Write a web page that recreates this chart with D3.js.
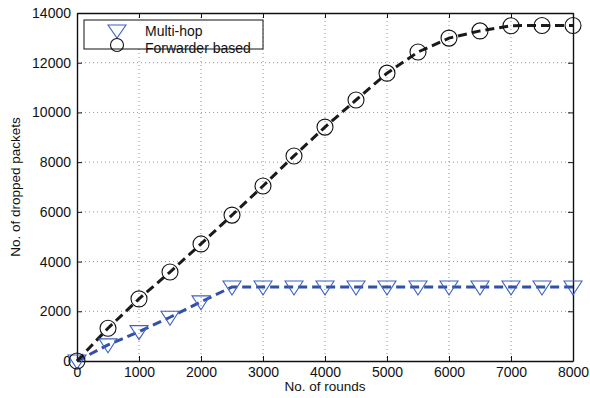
<!DOCTYPE html>
<html><head><meta charset="utf-8">
<script src="https://cdn.jsdelivr.net/npm/d3@7"></script>
<style>body{margin:0;background:#fff}svg{display:block}text{font-family:"Liberation Sans",Arial,sans-serif}</style>
</head><body><svg id="c" width="590" height="398"></svg>
<script>
const rounds = [0,500,1000,1500,2000,2500,3000,3500,4000,4500,5000,5500,6000,6500,7000,7500,8000];
const multiHop = [0,650,1180,1760,2380,2980,2980,2980,2980,2980,2980,2980,2980,2980,2980,2980,2980];
const forwarder = [0,1320,2500,3580,4710,5870,7040,8250,9410,10500,11580,12430,12990,13280,13490,13500,13500];
const xTicks = [0,1000,2000,3000,4000,5000,6000,7000,8000];
const yTicks = [0,2000,4000,6000,8000,10000,12000,14000];
const seriesNames = ["Multi-hop","Forwarder based"];

const svg = d3.select("#c");
const L=77,R=573,T=13,B=361;
const x = d3.scaleLinear().domain([0,8000]).range([L,R]);
const y = d3.scaleLinear().domain([0,14000]).range([B,T]);
const fmt = d3.format("d");

// grid
const g = svg.append("g");
xTicks.forEach(v=>{ if(v>0&&v<8000) g.append("line").attr("x1",x(v)).attr("x2",x(v)).attr("y1",T).attr("y2",B).attr("stroke","#777").attr("stroke-width",0.8).attr("stroke-dasharray","1,3");});
yTicks.forEach(v=>{ if(v>0&&v<14000) g.append("line").attr("x1",L).attr("x2",R).attr("y1",y(v)).attr("y2",y(v)).attr("stroke","#777").attr("stroke-width",0.8).attr("stroke-dasharray","1,3");});

// axes
const xa = svg.append("g").attr("transform",`translate(0,${B})`).call(d3.axisBottom(x).tickValues(xTicks).tickSizeInner(-5).tickSizeOuter(0).tickPadding(6).tickFormat(fmt));
const xt = svg.append("g").attr("transform",`translate(0,${T})`).call(d3.axisTop(x).tickValues(xTicks).tickSizeInner(-5).tickSizeOuter(0).tickFormat(""));
const ya = svg.append("g").attr("transform",`translate(${L},0)`).call(d3.axisLeft(y).tickValues(yTicks).tickSizeInner(-5).tickSizeOuter(0).tickPadding(6).tickFormat(fmt));
const yr = svg.append("g").attr("transform",`translate(${R},0)`).call(d3.axisRight(y).tickValues(yTicks).tickSizeInner(-5).tickSizeOuter(0).tickFormat(""));
[xa,xt,ya,yr].forEach(a=>{a.selectAll("path").attr("stroke","#111").attr("stroke-width",1.4);a.selectAll("line").attr("stroke","#111");a.selectAll("text").attr("fill","#111").style("font-size","14px");});

// lines
const line = d3.line().x((d,i)=>x(rounds[i])).y(d=>y(d));
svg.append("path").datum(multiHop).attr("d",line).attr("fill","none").attr("stroke","#3150a8").attr("stroke-width",3).attr("stroke-dasharray","9,5");
svg.append("path").datum(forwarder).attr("d",line).attr("fill","none").attr("stroke","#1a1a1a").attr("stroke-width",3).attr("stroke-dasharray","9,5");

const tri = (cx,cy)=>`M${cx-9},${cy-6} L${cx+9},${cy-6} L${cx},${cy+8} Z`;
svg.append("g").selectAll("path").data(multiHop).join("path").attr("d",(d,i)=>tri(x(rounds[i]),y(d))).attr("fill","none").attr("stroke","#3f62c4").attr("stroke-width",1.1);
svg.append("g").selectAll("circle").data(forwarder).join("circle").attr("cx",(d,i)=>x(rounds[i])).attr("cy",d=>y(d)).attr("r",8).attr("fill","none").attr("stroke","#111").attr("stroke-width",1.1);

// legend
const lg = svg.append("g");
lg.append("rect").attr("x",84).attr("y",20).attr("width",179).attr("height",29).attr("fill","#fff").attr("stroke","#111").attr("stroke-width",1);
lg.append("path").attr("d",`M108,25 L126,25 L117,38 Z`).attr("fill","none").attr("stroke","#3f62c4").attr("stroke-width",1.1);
lg.append("circle").attr("cx",117).attr("cy",45).attr("r",6.5).attr("fill","none").attr("stroke","#111").attr("stroke-width",1.1);
lg.append("text").attr("x",145).attr("y",36).text(seriesNames[0]).style("font-size","14px").attr("fill","#111");
lg.append("text").attr("x",145).attr("y",53).text(seriesNames[1]).style("font-size","14px").attr("fill","#111");

svg.append("text").attr("x",(L+R)/2).attr("y",391).attr("text-anchor","middle").text("No. of rounds").style("font-size","13.5px").attr("fill","#111");
svg.append("text").attr("transform",`translate(20,${(T+B)/2}) rotate(-90)`).attr("text-anchor","middle").text("No. of dropped packets").style("font-size","13.5px").attr("fill","#111");
</script></body></html>
